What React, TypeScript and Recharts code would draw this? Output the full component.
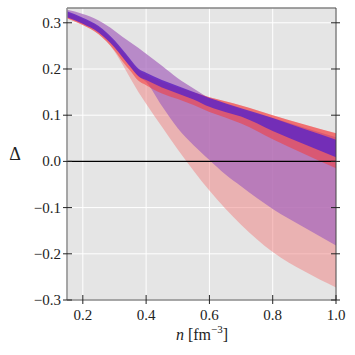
import { Area, CartesianGrid, ComposedChart, ReferenceLine, XAxis, YAxis } from "recharts";

const density = [0.15, 0.2, 0.25, 0.3, 0.325, 0.35, 0.375, 0.4, 0.45, 0.5, 0.55, 0.6, 0.65, 0.7, 0.8, 0.9, 1.0];

// wide bands
const purpleWideHi = [0.328, 0.319, 0.305, 0.283, 0.27, 0.258, 0.246, 0.233, 0.207, 0.18, 0.158, 0.137, 0.124, 0.112, 0.094, 0.073, 0.052];
const purpleWideLo = [0.312, 0.298, 0.279, 0.247, 0.226, 0.205, 0.185, 0.172, 0.12, 0.072, 0.035, 0.003, -0.028, -0.054, -0.103, -0.143, -0.182];
const pinkWideLo = [0.31, 0.295, 0.275, 0.238, 0.21, 0.18, 0.151, 0.125, 0.075, 0.026, -0.02, -0.063, -0.102, -0.137, -0.196, -0.238, -0.273];

// narrow bands
const redHi = [0.322, 0.308, 0.29, 0.258, 0.238, 0.217, 0.197, 0.187, 0.172, 0.16, 0.149, 0.139, 0.13, 0.121, 0.1, 0.08, 0.061];
const redLo = [0.31, 0.295, 0.275, 0.24, 0.217, 0.196, 0.175, 0.165, 0.147, 0.135, 0.122, 0.107, 0.095, 0.082, 0.048, 0.016, -0.015];
const violetHi = [0.325, 0.311, 0.293, 0.262, 0.242, 0.221, 0.201, 0.192, 0.176, 0.163, 0.15, 0.137, 0.126, 0.115, 0.094, 0.07, 0.047];
const violetLo = [0.312, 0.298, 0.279, 0.247, 0.226, 0.205, 0.185, 0.176, 0.16, 0.147, 0.134, 0.118, 0.107, 0.097, 0.066, 0.037, 0.009];

const xTicks = [0.2, 0.4, 0.6, 0.8, 1.0];
const yTicks = [-0.3, -0.2, -0.1, 0.0, 0.1, 0.2, 0.3];

const data = density.map((n, i) => ({
  n,
  pink: [pinkWideLo[i], redHi[i]],
  purple: [purpleWideLo[i], purpleWideHi[i]],
  red: [redLo[i], redHi[i]],
  violet: [violetLo[i], violetHi[i]],
}));

const textStyle = { fontFamily: "Liberation Serif, DejaVu Serif, serif" };

const fmt = (v: number) => (v < 0 ? "\u2212" + Math.abs(v).toFixed(1) : v.toFixed(1));

const XTick = (props: any) => {
  const { x, y, payload } = props;
  return (
    <g>
      <line x1={x} x2={x} y1={y - 5} y2={y + 4} stroke="#222" strokeWidth={1} />
      <text x={x} y={y + 20} textAnchor="middle" style={textStyle} fontSize={15} fill="#222">
        {fmt(payload.value)}
      </text>
    </g>
  );
};

const YTick = (props: any) => {
  const { x, y, payload } = props;
  return (
    <g>
      <line x1={x - 4} x2={x + 5} y1={y} y2={y} stroke="#222" strokeWidth={1} />
      <text x={x - 6} y={y + 5} textAnchor="end" style={textStyle} fontSize={15} fill="#222">
        {fmt(payload.value)}
      </text>
    </g>
  );
};

const RTick = (props: any) => {
  const { x, y } = props;
  return <line x1={x - 5} x2={x + 4} y1={y} y2={y} stroke="#222" strokeWidth={1} />;
};

export default function App() {
  return (
    <div style={{ position: "absolute", left: 0, top: 0, width: 355, height: 355 }}>
      <ComposedChart width={355} height={355} data={data} margin={{ top: 8, right: 18, left: 0, bottom: 0 }}>
        <CartesianGrid stroke="#ffffff" strokeWidth={1} fill="#e5e5e5" />
        <XAxis
          dataKey="n"
          type="number"
          domain={[0.15, 1.0]}
          ticks={xTicks}
          allowDataOverflow
          height={55}
          tickSize={0}
          tickMargin={0}
          tick={<XTick />}
          axisLine={{ stroke: "#8a8a8a", strokeWidth: 1.5 }}
          tickLine={false}
        />
        <YAxis
          type="number"
          domain={[-0.3, 0.332]}
          ticks={yTicks}
          allowDataOverflow
          width={67}
          tickSize={0}
          tickMargin={0}
          tick={<YTick />}
          axisLine={{ stroke: "#8a8a8a", strokeWidth: 1.5 }}
          tickLine={false}
        />
        <YAxis
          yAxisId="r"
          orientation="right"
          type="number"
          domain={[-0.3, 0.332]}
          ticks={yTicks}
          allowDataOverflow
          width={1}
          tickSize={0}
          tickMargin={0}
          tick={<RTick />}
          axisLine={{ stroke: "#444", strokeWidth: 1 }}
          tickLine={false}
        />
        <Area dataKey="pink" type="monotone" stroke="none" fill="#f08080" fillOpacity={0.5} isAnimationActive={false} dot={false} activeDot={false} />
        <Area dataKey="purple" type="monotone" stroke="none" fill="#a666bc" fillOpacity={0.72} isAnimationActive={false} dot={false} activeDot={false} />
        <Area dataKey="red" type="monotone" stroke="none" fill="#f43a3a" fillOpacity={0.55} isAnimationActive={false} dot={false} activeDot={false} />
        <Area dataKey="violet" type="monotone" stroke="none" fill="#6428c0" fillOpacity={0.88} isAnimationActive={false} dot={false} activeDot={false} />
        <ReferenceLine y={0} stroke="#000" strokeWidth={1.3} />
        <ReferenceLine y={0.332} stroke="#444" strokeWidth={1} />
      </ComposedChart>
      <svg width={355} height={355} style={{ position: "absolute", left: 0, top: 0, pointerEvents: "none" }}>
        <text x={15} y={160} textAnchor="middle" style={textStyle} fontSize={18} fill="#222">
          Δ
        </text>
        <text x={202} y={340} textAnchor="middle" style={textStyle} fontSize={16} fill="#222">
          <tspan fontStyle="italic">n</tspan> [fm<tspan dy={-7} fontSize={11}>{"\u22123"}</tspan>
          <tspan dy={7}>]</tspan>
        </text>
      </svg>
    </div>
  );
}
